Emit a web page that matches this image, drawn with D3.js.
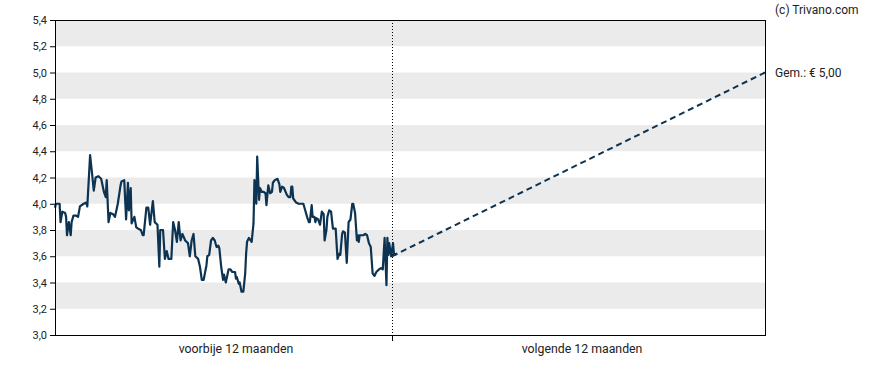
<!DOCTYPE html>
<html>
<head>
<meta charset="utf-8">
<script src="https://cdn.jsdelivr.net/npm/d3@7"></script>
<style>
  body { margin: 0; background: #fff; }
  text { font-family: Roboto, "Noto Sans", sans-serif; }
</style>
</head>
<body>
<script>
// days relative to today, koers in euro
var histDays = [-365,-364,-360,-359,-357,-354,-353,-352,-350,-348,-347,-345,-342,-340,-338,-334,-331,-330,-328,-327,
  -325,-323,-321,-318,-315,-312,-310,-309,-307,-305,-302,-300,-297,-294,-293,-290,-288,-286,-285,-283,
  -282,-279,-277,-275,-272,-270,-269,-266,-264,-262,-259,-257,-254,-252,-251,-248,-246,-244,-242,-239,
  -237,-235,-233,-231,-229,-227,-224,-221,-219,-217,-215,-213,-210,-208,-206,-204,-201,-200,-198,-196,
  -194,-192,-190,-188,-187,-185,-183,-182,-180,-177,-175,-173,-170,-169,-168,-166,-165,-163,-161,-159,
  -158,-157,-155,-152,-150,-149,-147,-146,-144,-143,-141,-139,-137,-136,-134,-132,-130,-129,-127,-124,
  -122,-121,-119,-117,-114,-112,-110,-109,-108,-107,-104,-101,-96,-94,-92,-90,-89,-87,-86,-84,
  -83,-82,-80,-78,-76,-74,-73,-71,-70,-68,-66,-64,-61,-59,-57,-56,-54,-53,-51,-49,
  -47,-45,-43,-42,-40,-38,-37,-36,-35,-31,-29,-27,-25,-23,-21,-19,-17,-14,-12,-10,
  -8,-6,-5,-4,-3,-1,1,2,5];
var histValues = [3.97,4.00,4.00,3.86,3.94,3.93,3.90,3.76,3.86,3.76,3.86,3.91,3.91,3.90,3.98,4.00,4.01,3.98,4.24,4.37,
  4.24,4.10,4.20,4.21,4.19,4.09,4.05,4.18,3.86,3.93,3.92,3.90,4.00,4.14,4.17,4.18,3.88,4.16,3.95,4.12,
  3.85,3.90,3.82,3.81,3.80,3.76,3.76,3.97,3.97,3.84,4.02,3.86,3.84,3.52,3.80,3.80,3.58,3.64,3.58,3.58,
  3.86,3.80,3.71,3.86,3.72,3.77,3.72,3.70,3.60,3.72,3.77,3.60,3.58,3.52,3.42,3.42,3.53,3.60,3.61,3.72,
  3.74,3.72,3.67,3.68,3.66,3.52,3.42,3.46,3.40,3.50,3.50,3.48,3.48,3.43,3.44,3.39,3.40,3.33,3.33,3.47,
  3.62,3.71,3.74,3.71,3.85,4.18,4.00,4.36,4.03,4.12,4.09,4.09,4.08,3.99,4.14,4.08,4.09,4.16,4.18,4.19,
  4.15,4.09,4.13,4.12,4.07,4.05,4.05,4.13,4.13,4.04,4.01,4.00,4.00,3.95,3.90,3.86,3.86,3.99,3.90,3.90,
  3.86,3.89,3.88,3.84,3.94,3.92,3.72,3.80,3.90,3.95,3.94,3.81,3.81,3.58,3.62,3.61,3.77,3.79,3.78,3.55,
  3.86,3.88,4.00,4.00,3.93,3.72,3.76,3.71,3.76,3.76,3.77,3.76,3.70,3.67,3.47,3.45,3.48,3.50,3.51,3.50,
  3.74,3.38,3.74,3.61,3.70,3.60,3.70,3.61,3.62];

var forecastDays = [0, 365];
var forecastValues = [3.60, 5.00];
var forecastLabel = "Gem.: € 5,00";

var yTicks = [3.0,3.2,3.4,3.6,3.8,4.0,4.2,4.4,4.6,4.8,5.0,5.2,5.4];
var periodLabels = ["voorbije 12 maanden", "volgende 12 maanden"];
var periodLabelDays = [-169, 186];

var width = 888, height = 370;
var margin = {left:55, right:123, top:20, bottom:35};
var innerW = width - margin.left - margin.right;
var innerH = height - margin.top - margin.bottom;
var lineColor = "#0c3352";

var svg = d3.select("body").append("svg").attr("width", width).attr("height", height);
var g = svg.append("g").attr("transform", "translate(" + margin.left + "," + margin.top + ")");

var x = d3.scaleLinear().domain([-365, 0, 365]).range([0, 337, innerW]);
var y = d3.scaleLinear().domain([3.0, 5.4]).range([innerH, 0]);

// grey bands
var bands = [];
for (var i = 0; i < yTicks.length - 1; i++) {
  if (i % 2 == 1) bands.push([yTicks[i], yTicks[i + 1]]);
}
g.selectAll("rect.band").data(bands).enter().append("rect")
  .attr("class", "band")
  .attr("x", 0).attr("width", innerW)
  .attr("y", function(d){ return y(d[1]); })
  .attr("height", function(d){ return y(d[0]) - y(d[1]); })
  .attr("fill", "#ebebeb");

// today line
g.append("line")
  .attr("x1", x(0)).attr("x2", x(0)).attr("y1", 0).attr("y2", innerH)
  .attr("stroke", "#000").attr("stroke-width", 1).attr("stroke-dasharray", "1,2")
  .attr("shape-rendering", "crispEdges");

var line = d3.line()
  .x(function(d){ return x(d[0]); })
  .y(function(d){ return y(d[1]); });

var hist = histDays.map(function(d, i){ return [d, histValues[i]]; });
var fc = forecastDays.map(function(d, i){ return [d, forecastValues[i]]; });

g.append("path").attr("d", line(fc))
  .attr("fill", "none").attr("stroke", lineColor).attr("stroke-width", 2)
  .attr("stroke-dasharray", "6,4");

g.append("path").attr("d", line(hist))
  .attr("fill", "none").attr("stroke", lineColor).attr("stroke-width", 2.2)
  .attr("stroke-linejoin", "round");

// frame
g.append("rect").attr("x", 0.5).attr("y", 0.5).attr("width", innerW).attr("height", innerH)
  .attr("fill", "none").attr("stroke", "#000").attr("stroke-width", 1)
  .attr("shape-rendering", "crispEdges");

var yAxis = d3.axisLeft(y).tickValues(yTicks).tickSize(5).tickPadding(3)
  .tickFormat(function(d){ return d3.format(".1f")(d).replace(".", ","); });
var ya = g.append("g").call(yAxis);
ya.select(".domain").remove();
ya.selectAll("text").attr("font-size", "11px").attr("fill", "#222");

var xAxis = d3.axisBottom(x).tickValues([0]).tickSize(6).tickFormat("");
var xa = g.append("g").attr("transform", "translate(0," + innerH + ")").call(xAxis);
xa.select(".domain").remove();

g.selectAll("text.period").data(periodLabels).enter().append("text")
  .attr("class", "period")
  .attr("x", function(d, i){ return x(periodLabelDays[i]); })
  .attr("y", innerH + 18)
  .attr("text-anchor", "middle").attr("font-size", "12.3px").attr("fill", "#222")
  .text(function(d){ return d; });

g.append("text").attr("x", innerW + 10).attr("y", y(forecastValues[1]) + 4)
  .attr("font-size", "12px").attr("fill", "#222").text(forecastLabel);

svg.append("text").attr("x", 775).attr("y", 14)
  .attr("font-size", "12px").attr("fill", "#222").text("(c) Trivano.com");
</script>
</body>
</html>
